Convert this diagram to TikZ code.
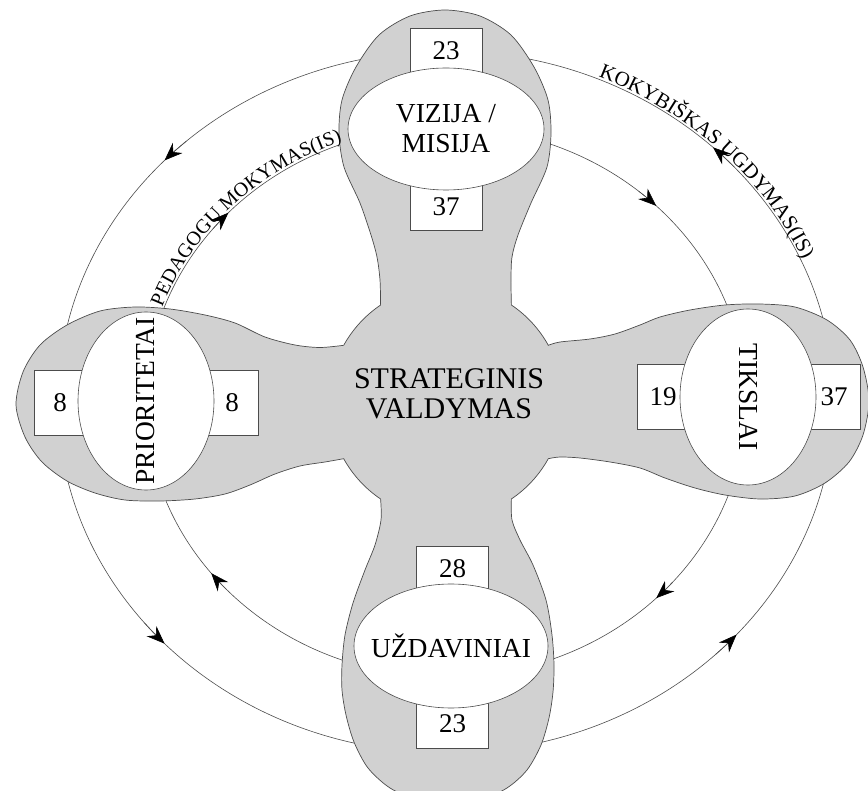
\documentclass[tikz,border=0pt]{standalone}
\usepackage{fontspec}
\setmainfont{Liberation Serif}
\usetikzlibrary{arrows.meta,shapes.geometric,decorations.text}

\tikzset{
  cycleline/.style={line width=0.6pt, draw=black!70},
  cycletip/.style={cycleline, -{Stealth[length=18pt,width=14pt,inset=6pt,black]}},
  numbox/.style={draw=black!70, fill=white, line width=0.6pt, inner sep=0pt,
    minimum width=72pt, minimum height=46pt, font=\fontsize{27}{27}\selectfont},
  sidebox/.style={numbox, minimum width=52pt, minimum height=65pt},
  stageell/.style={ellipse, draw=black!70, fill=white, line width=0.6pt, inner sep=0pt},
  stagetxt/.style={align=center, inner sep=0pt, font=\fontsize{27.5}{30}\selectfont},
  blob/.style={fill=black!18, draw=black!70, line width=0.7pt}
}

\begin{document}
\begin{tikzpicture}[x=1pt,y=-1pt]
\useasboundingbox (0,0) rectangle (868,791);

% outer cycle (anticlockwise) and inner cycle (clockwise)
\draw[cycleline] (446,402) ellipse[x radius=388, y radius=351];
\draw[cycleline] (446,402) ellipse[x radius=300, y radius=275];
\foreach \a in {43,138,225,315}
  \draw[cycletip] ([shift={(446,402)}]\a+3:388 and 351) arc[start angle=\a+3, end angle=\a-1.5, x radius=388, y radius=351];
\foreach \a in {44,140,222,313}
  \draw[cycletip] ([shift={(446,402)}]\a-3:300 and 275) arc[start angle=\a-3, end angle=\a+1.5, x radius=300, y radius=275];

% grey cross
\draw[blob] (380.6,305) -- plot[smooth] coordinates {(380.6,305) (380,280) (377,257) (371,235) (360,203) (344,167) (339,133) (342,100) (356,67) (379,35) (410,16) (445,10) (480,16) (511,35) (534,67) (548,100) (551,133) (547,167) (531,203) (518,235) (512,257) (511,280) (511.4,305)}
  arc[start angle=304, end angle=331, radius=117]
  -- plot[smooth] coordinates {(548.3,345.3) (560,342) (590,339) (615,334) (640,325) (660,317) (690,310) (725,305) (760,304) (795,307) (827,320) (850,340) (863,367) (869,401) (863,435) (849,462) (825,483) (795,496) (760,499) (725,495) (695,488) (665,478) (640,468) (610,462) (580,458) (560,457) (548.3,458.7)}
  arc[start angle=29, end angle=56, radius=117]
  -- plot[smooth] coordinates {(511.4,499) (512,520) (520,540) (533,565) (546,600) (552,635) (554,665) (553,692) (549,718) (541,745) (527,770) (507,788) (480,800) (449,803) (418,800) (390,788) (368,768) (354,742) (346,715) (342,690) (342,665) (345,635) (353,603) (365,570) (375,545) (381,520) (380.6,499)}
  arc[start angle=124, end angle=151, radius=117]
  -- plot[smooth] coordinates {(343.7,458.7) (325,462) (300,466) (275,474) (250,485) (225,494) (195,499) (160,501) (125,500) (95,493) (67,481) (42,462) (25,437) (16,405) (23,372) (40,345) (67,325) (100,311) (135,307) (170,309) (205,315) (235,323) (265,337) (295,345) (320,347.5) (343.7,345.3)}
  arc[start angle=209, end angle=236, radius=117] -- cycle;

% number boxes
\node[numbox] (vTop) at (446,51) {23};
\node[numbox] (vBot) at (446,207) {37};
\node[sidebox] (pL) at (60,402.5) {8};
\node[sidebox] (pR) at (232,402.5) {8};
\node[sidebox] (tL) at (663,396.5) {19};
\node[sidebox] (tR) at (834,396.5) {37};
\node[numbox] (uTop) at (452.5,569) {28};
\node[numbox, minimum height=48pt] (uBot) at (452.5,724) {23};

% stages
\node[stageell, minimum width=196pt, minimum height=122pt] (vizija) at (446,129) {};
\node[stageell, minimum width=136pt, minimum height=178pt] (prior) at (146,401) {};
\node[stageell, minimum width=136pt, minimum height=176pt] (tikslai) at (748,397) {};
\node[stageell, minimum width=194pt, minimum height=124pt] (uzd) at (451,646) {};
\node[stagetxt] (vizijaTxt) at (vizija) {VIZIJA /\\MISIJA};
\node[stagetxt, rotate=90] (priorTxt) at (prior) {PRIORITETAI};
\node[stagetxt, rotate=-90] (tiksTxt) at (tikslai) {TIKSLAI};
\node[stagetxt] (uzdTxt) at (uzd) {UŽDAVINIAI};
\node[stagetxt, font=\fontsize{30}{30}\selectfont] (valdymas) at (449,394) {STRATEGINIS\\VALDYMAS};

% texts along the cycles
\path[decorate, decoration={text along path, text={|\fontsize{20}{20}\selectfont|PEDAGOGU MOKYMAS(IS)}, text align=left, raise=2pt}]
  ([shift={(446,402)}]200:300 and 275) arc[start angle=200, end angle=262, x radius=300, y radius=275];
\path[decorate, decoration={text along path, text={|\fontsize{21}{21}\selectfont|KOKYBIŠKAS UGDYMAS(IS)}, text align=left, raise=2pt}]
  ([shift={(446,402)}]293:388 and 351) arc[start angle=293, end angle=352, x radius=388, y radius=351];
\end{tikzpicture}
\end{document}
